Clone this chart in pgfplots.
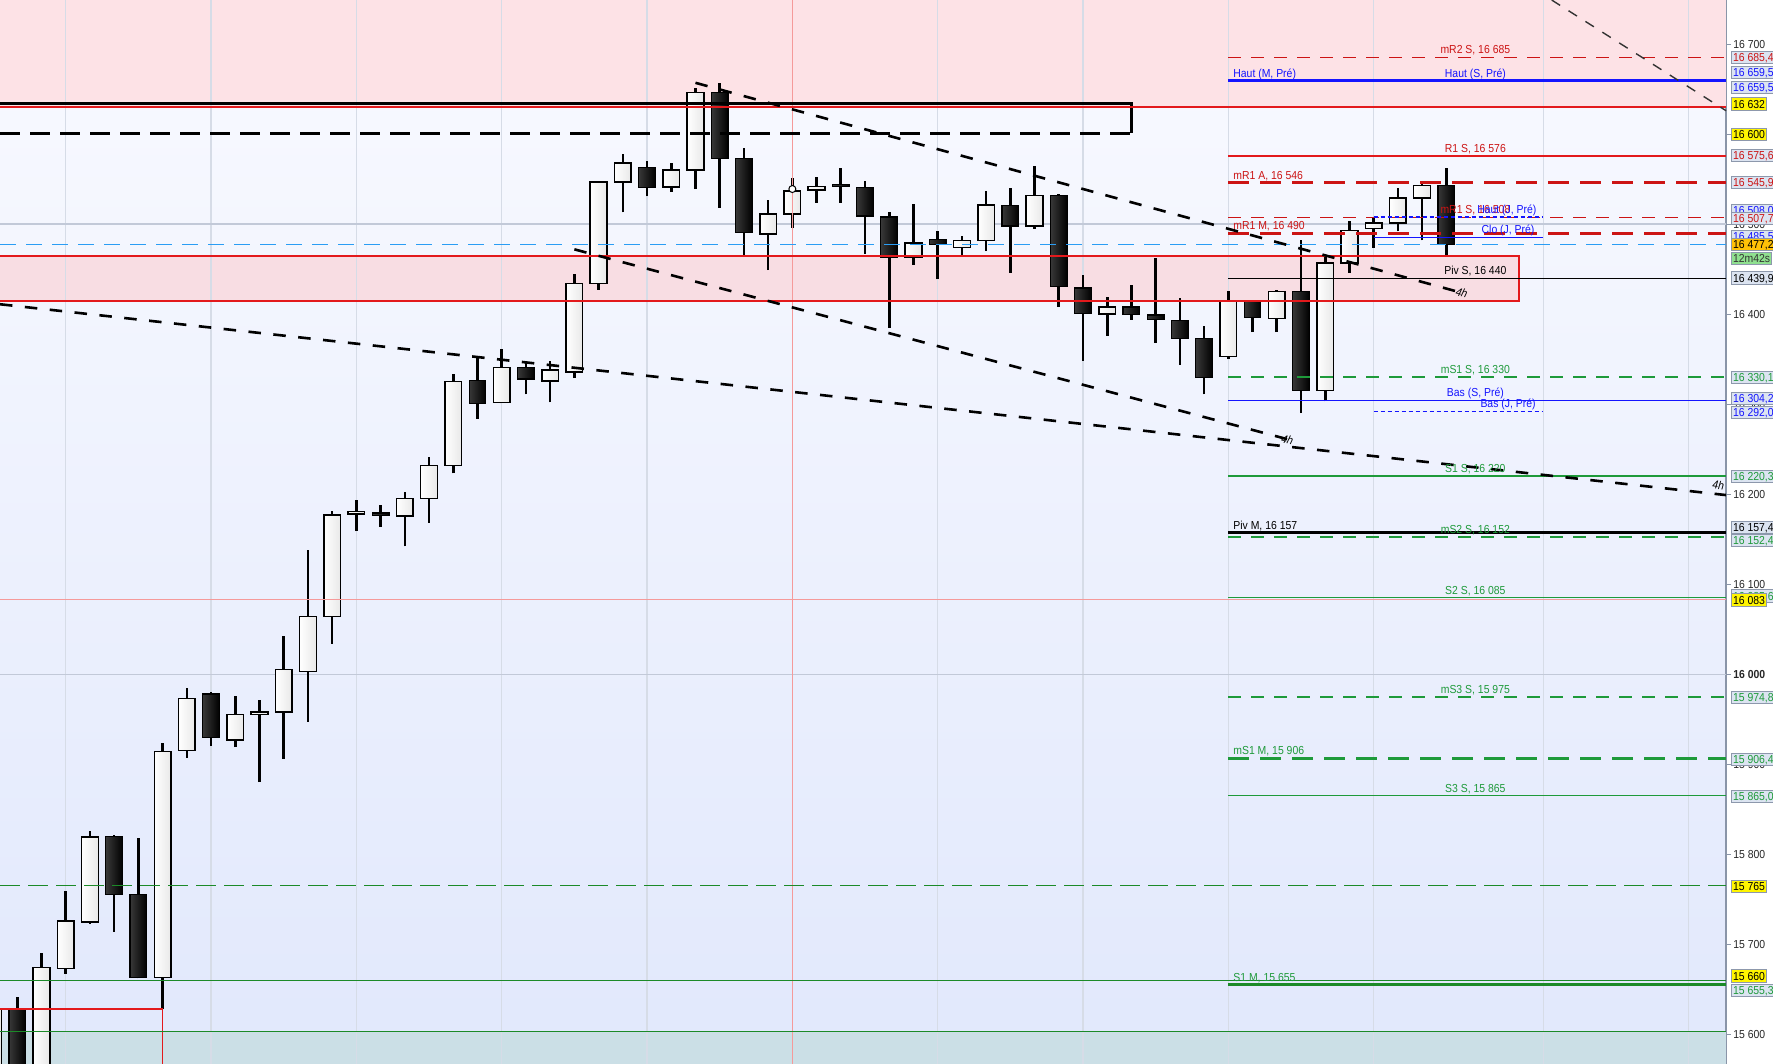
\documentclass[border=0pt]{standalone}
\usepackage{fontspec}
\setmainfont{Liberation Sans}[FakeStretch=0.9]
\usepackage{pgfplots}
\pgfplotsset{compat=1.18}
\definecolor{bgtop}{HTML}{F9FAFF}
\definecolor{bgbot}{HTML}{E1E8FC}
\definecolor{pinktop}{HTML}{FDE2E6}
\definecolor{pinkmid}{HTML}{F8DDE3}
\definecolor{tealz}{HTML}{CBDFE6}
\definecolor{gridv}{HTML}{D6DCE7}
\definecolor{gridh}{HTML}{C2C9D8}
\definecolor{axisgray}{HTML}{8A95A8}
\definecolor{lred}{HTML}{CC1414}
\definecolor{lred2}{HTML}{E3191C}
\definecolor{lpink}{HTML}{F59A9A}
\definecolor{lblue}{HTML}{1414FF}
\definecolor{lcyan}{HTML}{2A9DF4}
\definecolor{lgreen}{HTML}{1E9A3A}
\definecolor{dgreen}{HTML}{1C8A28}
\definecolor{boxfill}{HTML}{DCE4F1}
\definecolor{boxdraw}{HTML}{8D98AC}
\definecolor{yel}{HTML}{FFF500}
\definecolor{orng}{HTML}{FFC107}
\definecolor{grn}{HTML}{8FE08F}
\newcommand\lbl{\fontsize{11.6pt}{13pt}\selectfont}
\tikzset{
 wick/.style={black, line width=2.6pt},
 bullb/.style={draw=black, line width=1.5pt, left color=white, right color=black!9, line join=miter},
 bearb/.style={draw=black, line width=1.2pt, left color=black!78, right color=black, line join=miter},
 tl/.style={black, line width=2.6pt, dash pattern=on 12.5pt off 12.5pt},
 redd/.style={lred, line width=1.3pt, dash pattern=on 13pt off 10pt},
 reddk/.style={lred, line width=3.2pt, dash pattern=on 21pt off 11pt},
 greend/.style={lgreen, line width=1.4pt, dash pattern=on 13pt off 10pt},
 greendk/.style={lgreen, line width=3pt, dash pattern=on 21pt off 11pt},
 blued/.style={lblue, line width=1.4pt, dash pattern=on 4pt off 3pt},
 lab/.style={anchor=base, font=\lbl, inner sep=0pt, yshift=3.5pt},
 labl/.style={anchor=base west, font=\lbl, inner sep=0pt, yshift=3.5pt},
 rbox/.style={anchor=west, xshift=5pt, font=\lbl, inner sep=1.5pt, text height=8.6pt, text depth=0.5pt, draw=boxdraw, line width=0.9pt, fill=boxfill},
 ybox/.style={rbox, fill=yel, text=black},
 tickl/.style={anchor=west, xshift=7pt, font=\lbl, text=black!85, inner sep=0pt},
}
\newcommand\bull[5]{%
  \addplot[wick] coordinates {(#1,#4) (#1,#3)};
  \pgfmathsetmacro\xa{#1-0.345}\pgfmathsetmacro\xb{#1+0.345}%
  \addplot[bullb] coordinates {(\xa,#2) (\xb,#2) (\xb,#5) (\xa,#5)} --cycle;
}
\newcommand\bear[5]{%
  \addplot[wick] coordinates {(#1,#4) (#1,#3)};
  \pgfmathsetmacro\xa{#1-0.345}\pgfmathsetmacro\xb{#1+0.345}%
  \addplot[bearb] coordinates {(\xa,#2) (\xb,#2) (\xb,#5) (\xa,#5)} --cycle;
}
\begin{document}
\begin{tikzpicture}
\useasboundingbox (0,0) rectangle (1773pt,1064pt);
\begin{axis}[
 at={(0,0)}, anchor=south west,
 width=1726pt, height=1064pt, scale only axis,
 xmin=0.286, xmax=71.55, ymin=15567, ymax=16749,
 axis x line=none, axis y line*=right,
 y axis line style={draw=axisgray, line width=1.5pt, -},
 ytick={15600,15700,...,16700}, yticklabels={},
 tick align=outside, major tick length=5pt,
 ytick style={draw=axisgray, line width=1pt},
 clip=false,
 axis background/.style={top color=bgtop, bottom color=bgbot},
]
% zones
\addplot[fill=pinktop, draw=none] coordinates {(0.286,16630) (71.55,16630) (71.55,16749) (0.286,16749)} --cycle;
\addplot[fill=tealz, draw=none] coordinates {(0.286,15567) (71.55,15567) (71.55,15603) (0.286,15603)} --cycle;
\addplot[fill=pinkmid, draw=none] coordinates {(0.286,16414.5) (63,16414.5) (63,16464.5) (0.286,16464.5)} --cycle;
% grid
\addplot[gridv, line width=1.2pt] coordinates {(3,15567) (3,16749)};
\addplot[gridv, line width=1.2pt] coordinates {(9,15567) (9,16749)};
\addplot[gridv, line width=1.2pt] coordinates {(15,15567) (15,16749)};
\addplot[gridv, line width=1.2pt] coordinates {(21,15567) (21,16749)};
\addplot[gridv, line width=1.2pt] coordinates {(27,15567) (27,16749)};
\addplot[gridv, line width=1.2pt] coordinates {(39,15567) (39,16749)};
\addplot[gridv, line width=1.2pt] coordinates {(45,15567) (45,16749)};
\addplot[gridv, line width=1.2pt] coordinates {(51,15567) (51,16749)};
\addplot[gridv, line width=1.2pt] coordinates {(57,15567) (57,16749)};
\addplot[gridv, line width=1.2pt] coordinates {(64,15567) (64,16749)};
\addplot[gridv, line width=1.2pt] coordinates {(70,15567) (70,16749)};
\addplot[gridh, line width=1.3pt] coordinates {(0.286,16000) (71.55,16000)};
\addplot[gridh, line width=1.3pt] coordinates {(0.286,16500) (71.55,16500)};
% candles: index, open, high, low, close
\bull{0}{15480}{15640}{15470}{15628}
\bear{1}{15628}{15641}{15520}{15540}
\bull{2}{15540}{15690}{15530}{15674}
\bull{3}{15673}{15759}{15667}{15726}
\bull{4}{15725}{15826}{15723}{15819}
\bear{5}{15820}{15821}{15714}{15755}
\bear{6}{15755}{15818}{15662}{15663}
\bull{7}{15663}{15924}{15628}{15914}
\bull{8}{15915}{15985}{15907}{15973}
\bear{9}{15978}{15980}{15920}{15930}
\bull{10}{15927}{15976}{15919}{15955}
\bull{11}{15955}{15971}{15880}{15958}
\bull{12}{15958}{16043}{15906}{16005}
\bull{13}{16003}{16138}{15947}{16064}
\bull{14}{16064}{16181}{16034}{16177}
\bull{15}{16178}{16193}{16159}{16181}
\bear{16}{16179}{16188}{16164}{16176}
\bull{17}{16176}{16202}{16142}{16195}
\bull{18}{16195}{16241}{16168}{16232}
\bull{19}{16232}{16334}{16223}{16325}
\bear{20}{16326}{16354}{16284}{16301}
\bull{21}{16302}{16361}{16301}{16341}
\bear{22}{16341}{16348}{16311}{16328}
\bull{23}{16326}{16348}{16302}{16338}
\bull{24}{16336}{16445}{16329}{16434}
\bull{25}{16434}{16548}{16427}{16547}
\bull{26}{16547}{16578}{16513}{16568}
\bear{27}{16563}{16570}{16531}{16541}
\bull{28}{16541}{16568}{16536}{16560}
\bull{29}{16560}{16651}{16539}{16646}
\bear{30}{16646}{16657}{16518}{16573}
\bear{31}{16573}{16585}{16465}{16491}
\bull{32}{16489}{16527}{16449}{16511}
\bull{33}{16511}{16551}{16496}{16537}
\bull{34}{16538}{16552}{16524}{16542}
\bear{35}{16544}{16562}{16524}{16542}
\bear{36}{16541}{16548}{16467}{16509}
\bear{37}{16508}{16514}{16385}{16463}
\bull{38}{16463}{16522}{16455}{16479}
\bear{39}{16483}{16492}{16439}{16477}
\bull{40}{16474}{16487}{16466}{16482}
\bull{41}{16482}{16537}{16470}{16521}
\bear{42}{16521}{16540}{16446}{16498}
\bull{43}{16498}{16565}{16495}{16532}
\bear{44}{16532}{16533}{16408}{16431}
\bear{45}{16429}{16443}{16348}{16401}
\bull{46}{16400}{16419}{16376}{16408}
\bear{47}{16408}{16432}{16394}{16400}
\bear{48}{16399}{16462}{16368}{16394}
\bear{49}{16393}{16418}{16344}{16373}
\bear{50}{16373}{16387}{16311}{16330}
\bull{51}{16353}{16426}{16350}{16415}
\bear{52}{16414}{16416}{16380}{16396}
\bull{53}{16395}{16427}{16380}{16425}
\bear{54}{16425}{16482}{16290}{16315}
\bull{55}{16315}{16464}{16303}{16457}
\bull{56}{16457}{16504}{16446}{16493}
\bull{57}{16495}{16508}{16474}{16501}
\bull{58}{16501}{16540}{16492}{16529}
\bull{59}{16529}{16547}{16482}{16543}
\bear{60}{16543}{16562}{16465}{16477}
\addplot[only marks, mark=*, mark size=3.5pt, mark options={fill=white, draw=black, line width=1pt}] coordinates {(33,16539)};
% full-width lines
\addplot[lpink, line width=1.2pt] coordinates {(33,15567) (33,16749)};
\addplot[lpink, line width=1.2pt] coordinates {(0.286,16083) (71.55,16083)};
\addplot[black, line width=3pt] coordinates {(0.286,16633.5) (47,16633.5) (47,16601)};
\addplot[lred2, line width=1.4pt] coordinates {(0.286,16630) (71.55,16630)};
\addplot[black, line width=3pt, dash pattern=on 20pt off 10pt] coordinates {(0.286,16601) (47,16601)};
\addplot[lred2, line width=1.4pt] coordinates {(0.286,16464.5) (63,16464.5) (63,16414.5) (0.286,16414.5)};
\addplot[lred2, line width=1.4pt] coordinates {(0.286,15628) (7,15628) (7,15567)};
\addplot[dgreen, line width=1.4pt, dash pattern=on 20pt off 8pt] coordinates {(0.286,15765) (71.55,15765)};
\addplot[dgreen, line width=1.3pt] coordinates {(0.286,15660) (71.55,15660)};
\addplot[dgreen, line width=1.3pt] coordinates {(0.286,15603) (71.55,15603)};
\addplot[lcyan, line width=1.4pt, dash pattern=on 16pt off 10pt] coordinates {(0.286,16477.2) (71.55,16477.2)};
% pivot levels
\addplot[redd] coordinates {(51,16685.4) (71.55,16685.4)};
\addplot[lblue, line width=2.2pt] coordinates {(51,16659.5) (71.55,16659.5)};
\addplot[lred2, line width=1.3pt] coordinates {(51,16575.6) (71.55,16575.6)};
\addplot[reddk] coordinates {(51,16545.9) (71.55,16545.9)};
\addplot[redd] coordinates {(51,16507.7) (71.55,16507.7)};
\addplot[blued] coordinates {(57,16508) (64,16508)};
\addplot[reddk] coordinates {(51,16490) (71.55,16490)};
\addplot[lblue, line width=1.3pt] coordinates {(57,16485.5) (64,16485.5)};
\addplot[black, line width=1.3pt] coordinates {(51,16439.9) (71.55,16439.9)};
\addplot[greend] coordinates {(51,16330.1) (71.55,16330.1)};
\addplot[lblue, line width=1.5pt] coordinates {(51,16304.2) (71.55,16304.2)};
\addplot[blued] coordinates {(57,16292) (64,16292)};
\addplot[lgreen, line width=1.3pt] coordinates {(51,16220.3) (71.55,16220.3)};
\addplot[black, line width=3pt] coordinates {(51,16157.4) (71.55,16157.4)};
\addplot[greend] coordinates {(51,16152.4) (71.55,16152.4)};
\addplot[lgreen, line width=1.3pt] coordinates {(51,16085) (71.55,16085)};
\addplot[greend] coordinates {(51,15974.8) (71.55,15974.8)};
\addplot[greendk] coordinates {(51,15906.4) (71.55,15906.4)};
\addplot[lgreen, line width=1.3pt] coordinates {(51,15865) (71.55,15865)};
\addplot[dgreen, line width=3pt] coordinates {(51,15655.3) (71.55,15655.3)};
% trend lines
\addplot[tl] coordinates {(29,16657) (60.6,16424)};
\addplot[tl] coordinates {(24,16472) (53.45,16261)};
\addplot[tl] coordinates {(0.286,16411) (71.55,16199)};
\addplot[black!80, line width=1.4pt, dash pattern=on 10pt off 10pt] coordinates {(64.35,16749) (71.55,16626)};
\node[font=\lbl, rotate=-15, anchor=south west, inner sep=1pt] at (axis cs:60.3,16420) {\itshape 4h};
\node[font=\lbl, rotate=-15, anchor=south west, inner sep=1pt] at (axis cs:53.1,16257) {\itshape 4h};
\node[font=\lbl, rotate=-6, anchor=south east, inner sep=1pt] at (axis cs:71.5,16203) {\itshape 4h};
% level labels
\node[lab, text=lred] at (axis cs:61.2,16685.4) {mR2 S, 16 685};
\node[labl, text=lblue] at (axis cs:51.2,16659.5) {Haut (M, Pré)};
\node[lab, text=lblue] at (axis cs:61.2,16659.5) {Haut (S, Pré)};
\node[lab, text=lred] at (axis cs:61.2,16575.6) {R1 S, 16 576};
\node[labl, text=lred] at (axis cs:51.2,16545.9) {mR1 A, 16 546};
\node[lab, text=lred] at (axis cs:61.2,16507.7) {mR1 S, 16 508};
\node[lab, text=lblue] at (axis cs:62.5,16508) {Haut (J, Pré)};
\node[labl, text=lred] at (axis cs:51.2,16490) {mR1 M, 16 490};
\node[lab, text=lblue] at (axis cs:62.55,16485.5) {Clo (J, Pré)};
\node[lab, text=black] at (axis cs:61.2,16439.9) {Piv S, 16 440};
\node[lab, text=lgreen] at (axis cs:61.2,16330.1) {mS1 S, 16 330};
\node[lab, text=lblue] at (axis cs:61.2,16304.2) {Bas (S, Pré)};
\node[lab, text=lblue] at (axis cs:62.55,16292) {Bas (J, Pré)};
\node[lab, text=lgreen] at (axis cs:61.2,16220.3) {S1 S, 16 220};
\node[labl, text=black] at (axis cs:51.2,16157.4) {Piv M, 16 157};
\node[lab, text=lgreen] at (axis cs:61.2,16152.4) {mS2 S, 16 152};
\node[lab, text=lgreen] at (axis cs:61.2,16085) {S2 S, 16 085};
\node[lab, text=lgreen] at (axis cs:61.2,15974.8) {mS3 S, 15 975};
\node[labl, text=lgreen] at (axis cs:51.2,15906.4) {mS1 M, 15 906};
\node[lab, text=lgreen] at (axis cs:61.2,15865) {S3 S, 15 865};
\node[labl, text=lgreen] at (axis cs:51.2,15655.3) {S1 M, 15 655};
% tick labels
\node[tickl] at (axis cs:71.55,16700) {16 700};
\node[tickl] at (axis cs:71.55,16600) {16 600};
\node[tickl] at (axis cs:71.55,16500) {16 500};
\node[tickl] at (axis cs:71.55,16400) {16 400};
\node[tickl] at (axis cs:71.55,16300) {16 300};
\node[tickl] at (axis cs:71.55,16200) {16 200};
\node[tickl] at (axis cs:71.55,16100) {16 100};
\node[tickl] at (axis cs:71.55,16000) {\bfseries 16 000};
\node[tickl] at (axis cs:71.55,15900) {15 900};
\node[tickl] at (axis cs:71.55,15800) {15 800};
\node[tickl] at (axis cs:71.55,15700) {15 700};
\node[tickl] at (axis cs:71.55,15600) {15 600};
% value boxes
\node[rbox, text=lred] at (axis cs:71.55,16685.1) {16 685,4};
\node[rbox, text=lblue] at (axis cs:71.55,16668.2) {16 659,5};
\node[rbox, text=lblue] at (axis cs:71.55,16651.6) {16 659,5};
\node[ybox] at (axis cs:71.55,16633.5) {16 632};
\node[ybox] at (axis cs:71.55,16599.8) {16 600};
\node[rbox, text=lred] at (axis cs:71.55,16576) {16 575,6};
\node[rbox, text=lred] at (axis cs:71.55,16546) {16 545,9};
\node[rbox, text=lblue] at (axis cs:71.55,16515.5) {16 508,0};
\node[rbox, text=lred] at (axis cs:71.55,16506.5) {16 507,7};
\node[rbox, text=lblue] at (axis cs:71.55,16486.8) {16 485,5};
\node[rbox, fill=orng, text=black] at (axis cs:71.55,16477.6) {16 477,2};
\node[rbox, fill=grn, text=black!80] at (axis cs:71.55,16462.1) {12m42s};
\node[rbox, text=black] at (axis cs:71.55,16440.2) {16 439,9};
\node[rbox, text=lgreen] at (axis cs:71.55,16329.9) {16 330,1};
\node[rbox, text=lblue] at (axis cs:71.55,16306.5) {16 304,2};
\node[rbox, text=lblue] at (axis cs:71.55,16290.5) {16 292,0};
\node[rbox, text=lgreen] at (axis cs:71.55,16219.4) {16 220,3};
\node[rbox, text=black] at (axis cs:71.55,16163.2) {16 157,4};
\node[rbox, text=lgreen] at (axis cs:71.55,16148.3) {16 152,4};
\node[rbox, text=lgreen] at (axis cs:71.55,16086.9) {16 085,6};
\node[ybox] at (axis cs:71.55,16082.5) {16 083};
\node[rbox, text=lgreen] at (axis cs:71.55,15974.4) {15 974,8};
\node[rbox, text=lgreen] at (axis cs:71.55,15905.8) {15 906,4};
\node[rbox, text=lgreen] at (axis cs:71.55,15864.4) {15 865,0};
\node[ybox] at (axis cs:71.55,15764.7) {15 765};
\node[ybox] at (axis cs:71.55,15664.8) {15 660};
\node[rbox, text=lgreen] at (axis cs:71.55,15648.9) {15 655,3};
\end{axis}
\end{tikzpicture}
\end{document}
